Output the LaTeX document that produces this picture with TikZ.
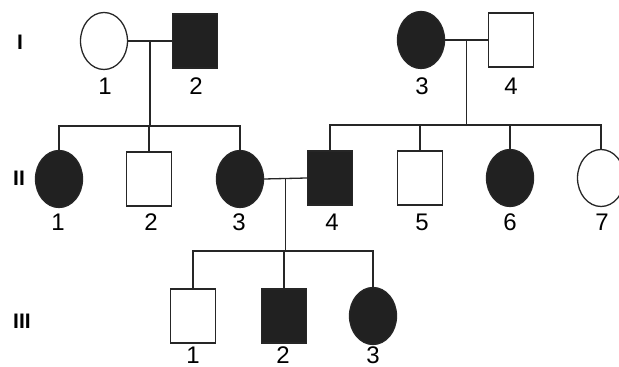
\documentclass[tikz,border=0pt]{standalone}
\usepackage{fontspec}
\setmainfont{Liberation Sans}
\usetikzlibrary{shapes.geometric,calc}

\definecolor{affcol}{gray}{0.13}
\definecolor{inkcol}{gray}{0.15}

\tikzset{
  male/.style={draw=inkcol, line width=0.65pt, rectangle, inner sep=0pt,
    minimum width=22.5pt, minimum height=27pt},
  female/.style={draw=inkcol, line width=0.65pt, ellipse, inner sep=0pt,
    minimum width=23.5pt, minimum height=28.5pt},
  affected/.style={fill=affcol},
  num/.style={font=\fontsize{12}{14}\selectfont, inner sep=0pt},
  gen/.style={font=\fontsize{10.5}{12}\selectfont\bfseries, inner sep=0pt},
  link/.style={draw=inkcol, line width=0.65pt}
}

\begin{document}
\begin{tikzpicture}[x=0.5pt,y=-0.5pt]
\useasboundingbox (0,0) rectangle (619,367);
\clip (0,0) rectangle (619,367);

% generation labels
\node[gen] (gI) at (20,42) {I};
\node[gen] (gII) at (19,178) {II};
\node[gen] (gIII) at (22,321) {III};

% generation I
\node[female] (I1) at (104,41) {};
\node[male,affected] (I2) at (195,41) {};
\node[female,affected] (I3) at (421,40) {};
\node[male] (I4) at (511,40) {};

% generation II
\node[female,affected] (II1) at (59,179) {};
\node[male] (II2) at (149,179) {};
\node[female,affected] (II3) at (240,179) {};
\node[male,affected] (II4) at (330,178) {};
\node[male] (II5) at (420,178) {};
\node[female,affected] (II6) at (510,178) {};
\node[female] (II7) at (601,178) {};

% generation III
\node[male] (III1) at (193,316) {};
\node[male,affected] (III2) at (284,316) {};
\node[female,affected] (III3) at (373,316) {};

% numbers
\node[num] (nI1) at (105,86) {1};
\node[num] (nI2) at (196,86) {2};
\node[num] (nI3) at (422,86) {3};
\node[num] (nI4) at (511,86) {4};
\node[num] (nII1) at (58,222) {1};
\node[num] (nII2) at (151,222) {2};
\node[num] (nII3) at (239,222) {3};
\node[num] (nII4) at (332,222) {4};
\node[num] (nII5) at (422,222) {5};
\node[num] (nII6) at (510,222) {6};
\node[num] (nII7) at (602,222) {7};
\node[num] (nIII1) at (193,355) {1};
\node[num] (nIII2) at (283,355) {2};
\node[num] (nIII3) at (373,355) {3};

% matings and sibships
\coordinate (m1) at ($(I1.east)!0.5!(I2.west)$);
\coordinate (s1) at (m1 |- 0,126);
\draw[link] (I1.east) -- (I2.west);
\draw[link] (m1) -- (s1);
\draw[link] (II1.north) |- (s1) -| (II3.north);
\draw[link] (II2.north) -- (II2.north |- s1);

\coordinate (m2) at ($(I3.east)!0.5!(I4.west)$);
\coordinate (s2) at (m2 |- 0,125);
\draw[link] (I3.east) -- (I4.west);
\draw[link] (m2) -- (s2);
\draw[link] (II4.north) |- (s2) -| (II7.north);
\draw[link] (II5.north) -- (II5.north |- s2);
\draw[link] (II6.north) -- (II6.north |- s2);

\coordinate (m3) at ($(II3.east)!0.5!(II4.west)$);
\coordinate (s3) at (m3 |- 0,251);
\draw[link] (II3.east) -- (II4.west);
\draw[link] (m3) -- (s3);
\draw[link] (III1.north) |- (s3) -| (III3.north);
\draw[link] (III2.north) -- (III2.north |- s3);
\end{tikzpicture}
\end{document}
